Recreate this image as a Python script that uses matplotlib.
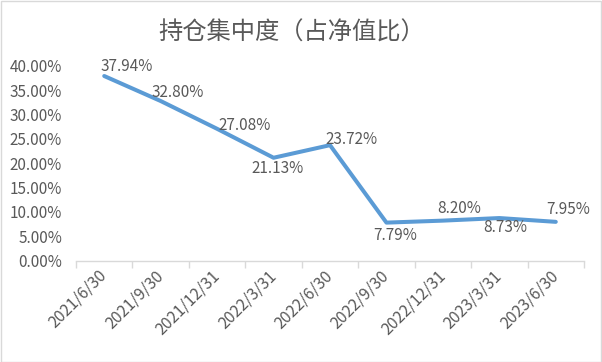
import matplotlib.pyplot as plt
from matplotlib.ticker import FuncFormatter, FixedLocator

plt.rcParams['font.family'] = ['Noto Sans CJK SC', 'DejaVu Sans']

dates = ['2021/6/30', '2021/9/30', '2021/12/31', '2022/3/31', '2022/6/30',
         '2022/9/30', '2022/12/31', '2023/3/31', '2023/6/30']
values = [37.94, 32.80, 27.08, 21.13, 23.72, 7.79, 8.20, 8.73, 7.95]
# label offsets in pixels (dx, dy)
offsets = [(22, 10), (17, 9), (28, 3), (4, -11), (21, 6), (9, -13), (16, 12), (6, -9), (12, 12)]

txt = '#595959'
grid = '#D9D9D9'

fig = plt.figure(figsize=(6.02, 3.62), dpi=100)
ax = fig.add_axes([76 / 602, 1 - 260.5 / 362, (584 - 76) / 602, (260.5 - 66) / 362])

x = list(range(len(dates)))
ax.plot(x, values, color='#5B9BD5', linewidth=2.9, solid_capstyle='round', solid_joinstyle='round')

for xi, v, (dx, dy) in zip(x, values, offsets):
    ax.annotate(f'{v:.2f}%', (xi, v), xytext=(dx, dy), textcoords='offset pixels',
                ha='center', va='center', fontsize=11, color=txt)

ax.set_xlim(-0.5, len(dates) - 0.5)
ax.set_ylim(0, 40)
ax.set_yticks([i * 5 for i in range(9)])
ax.yaxis.set_major_formatter(FuncFormatter(lambda v, p: f'{v:.2f}%'))
ax.tick_params(axis='y', length=0, pad=10, labelsize=11, labelcolor=txt)

ax.set_xticks(x)
ax.set_xticklabels(dates, rotation=45, ha='right', va='center', rotation_mode='anchor')
ax.xaxis.set_minor_locator(FixedLocator([i - 0.5 for i in range(len(dates) + 1)]))
ax.tick_params(axis='x', which='major', length=0, pad=9, labelsize=11.5, labelcolor=txt)
ax.tick_params(axis='x', which='minor', length=5, color=grid, width=1)

for s in ['top', 'right', 'left']:
    ax.spines[s].set_visible(False)
ax.spines['bottom'].set_color(grid)
ax.spines['bottom'].set_linewidth(1)

fig.text(292 / 602, 1 - 33 / 362, '持仓集中度（占净值比）', ha='center', va='center',
         fontsize=17.5, color=txt)

fig.patches.append(plt.Rectangle((0.001, 0.001), 0.998, 0.997, transform=fig.transFigure,
                                 fill=False, edgecolor=grid, linewidth=1))

fig.savefig('out.png', dpi=100)
